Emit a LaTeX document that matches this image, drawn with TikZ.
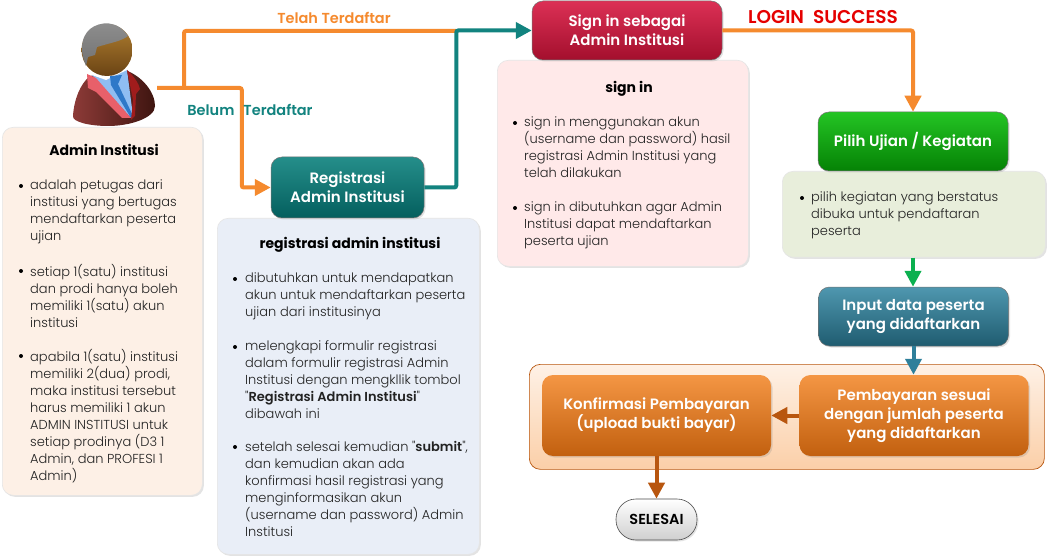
\documentclass[tikz,border=0pt]{standalone}
\usepackage{fontspec}
\setmainfont{Poppins}
\newfontfamily\lightfont{Poppins Light}[BoldFont={Poppins SemiBold}]
\usetikzlibrary{arrows.meta,shadows,calc}
\definecolor{orangeline}{HTML}{F58A2E}
\definecolor{tealline}{HTML}{12837F}
\definecolor{greenline}{HTML}{0BB04F}
\definecolor{blueline}{HTML}{2E7F9A}
\definecolor{brownline}{HTML}{B8560F}
\definecolor{bodyink}{HTML}{222222}
\definecolor{admfill}{HTML}{FDF0E6}
\definecolor{regfill}{HTML}{E9EEF7}
\definecolor{signfill}{HTML}{FFE9E9}
\definecolor{pilfill}{HTML}{E8EEDB}
\definecolor{jacketL}{HTML}{8E3B38}
\definecolor{jacketR}{HTML}{3E1510}
\definecolor{lapel}{HTML}{E8606A}
\definecolor{lapelR}{HTML}{A01C1C}
\definecolor{shirt}{HTML}{8FBDF2}
\definecolor{tie}{HTML}{2E78C8}
\definecolor{skinT}{HTML}{B07F30}
\definecolor{skinB}{HTML}{6A4314}
\definecolor{hairT}{HTML}{8F8F8F}
\definecolor{hairB}{HTML}{727272}
\definecolor{redT}{HTML}{DC3055}
\definecolor{redB}{HTML}{A30F2D}
\definecolor{tealT}{HTML}{258E8A}
\definecolor{tealB}{HTML}{045F5E}
\definecolor{greenT}{HTML}{24C424}
\definecolor{greenB}{HTML}{058205}
\definecolor{blueT}{HTML}{4F97AF}
\definecolor{blueB}{HTML}{1F5C70}
\definecolor{orangeT}{HTML}{F49644}
\definecolor{orangeB}{HTML}{C2600F}
\definecolor{groupT}{HTML}{FEF1E6}
\definecolor{groupB}{HTML}{FBCFA8}
\definecolor{grayB}{HTML}{CFCFCF}
\tikzset{
  softshadow/.style={drop shadow={opacity=.22,shadow xshift=1.5pt,shadow yshift=-1.5pt}},
  infobox/.style={rectangle,rounded corners=11pt,draw=black!10,line width=.6pt,softshadow,anchor=north west,inner sep=0pt},
  btn/.style={rectangle,rounded corners=11pt,draw=black!55,line width=.5pt,softshadow,inner sep=0pt,
    text=white,align=center,font=\fontsize{15}{19}\selectfont\lightfont\bfseries,minimum width=190pt,minimum height=59pt},
  orangebtn/.style={btn,draw=none,top color=orangeT,bottom color=orangeB,minimum height=81pt,minimum width=229pt},
  bodytext/.style={anchor=north west,inner sep=0pt,align=left,text=bodyink,font=\fontsize{13}{17}\selectfont\lightfont},
  titletext/.style={inner sep=0pt,text=black,font=\fontsize{14}{17}\selectfont\bfseries},
  bulletdot/.style={circle,fill=black,inner sep=0pt,minimum size=4pt},
  flowlabel/.style={inner sep=0pt,font=\fontsize{14.5}{16}\selectfont\lightfont\bfseries},
  link/.style={line width=4pt,-{Triangle[width=16pt,length=16pt]}},
  plainlink/.style={line width=4pt},
}
\begin{document}
\begin{tikzpicture}[x=1pt,y=-1pt]
\useasboundingbox (0,0) rectangle (1047,556);
\fill[white] (0,0) rectangle (1047,556);

% person
\shade[left color=jacketL,right color=jacketR]
  (73,116) .. controls (74,100) and (80,84) .. (90,76) -- (125,70)
  .. controls (142,76) and (155,92) .. (155,106) .. controls (155,118) and (130,126) .. (108,126)
  .. controls (90,126) and (72,122) .. (73,116) -- cycle;
\fill[shirt] (92,75) -- (127,70) -- (133,116) -- (131,118) -- cycle;
\fill[white] (92,75) -- (106,80) -- (127,70) -- (124,66) -- (97,70) -- cycle;
\fill[tie] (110,76) -- (122,75) -- (118,84) -- (133,116) -- (131,118) -- (111,85) -- cycle;
\fill[lapel] (87,74) -- (96,78) -- (131,118) -- (122,118) -- (96,92) -- (88,88) -- cycle;
\fill[lapelR] (127,70) .. controls (134,76) and (139,84) .. (140,89) -- (136,94) -- (135,116) -- (131,120) -- (133,100) -- cycle;
\shade[top color=skinT,bottom color=skinB] (107,50) ellipse (25.5pt and 26pt);
\shade[top color=hairT,bottom color=hairB]
  (86,66) .. controls (80,52) and (80,38) .. (90,29) .. controls (100,21) and (118,20) .. (128,36)
  .. controls (122,41) and (110,43) .. (97,47) -- (95,55) -- (88,57) -- cycle;
\coordinate (personout) at (157,88);
\coordinate (branch) at (184,88);

% group panel
\node[rectangle,rounded corners=11pt,draw=brownline,line width=.7pt,top color=groupT,bottom color=groupB,anchor=north west,minimum width=515pt,minimum height=105pt,inner sep=0pt] (groupbox) at (529,364) {};

% info boxes
\node[infobox,fill=admfill,minimum width=200pt,minimum height=368pt] (admbox) at (2,127) {};
\node[infobox,fill=regfill,minimum width=262pt,minimum height=336pt] (regbox) at (217,218) {};
\node[infobox,fill=signfill,minimum width=251pt,minimum height=206pt] (signbox) at (497,60) {};
\node[infobox,fill=pilfill,minimum width=263pt,minimum height=86pt] (pilbox) at (782,171) {};

% buttons
\node[btn,top color=redT,bottom color=redB] (signbtn) at (627,30.5) {Sign in sebagai\\Admin Institusi};
\node[btn,top color=tealT,bottom color=tealB,minimum width=153pt,minimum height=61pt] (regbtn) at (347.5,187.5) {Registrasi\\Admin Institusi};
\node[btn,top color=greenT,bottom color=greenB] (pilbtn) at (913,141.5) {Pilih Ujian / Kegiatan};
\node[btn,top color=blueT,bottom color=blueB] (inputbtn) at (913.5,316.5) {Input data peserta\\yang didaftarkan};
\node[orangebtn] (paybtn) at (914,415.5) {Pembayaran sesuai\\dengan jumlah peserta\\yang didaftarkan};
\node[orangebtn] (confbtn) at (656.5,415.5) {Konfirmasi Pembayaran\\(upload bukti bayar)};
\node[rectangle,rounded corners=20pt,draw=black!70,line width=.6pt,top color=white,bottom color=grayB,softshadow,minimum width=81pt,minimum height=41pt,inner sep=0pt,font=\fontsize{14.5}{15}\selectfont\lightfont\bfseries] (donebtn) at (656.5,519.5) {SELESAI};

% connectors
\draw[plainlink,orangeline,rounded corners=2pt] (branch) |- (456,31);
\draw[link,orangeline,rounded corners=2pt] (personout) -| ($(regbtn.west)+(-29,0)$) -- (regbtn.west);
\draw[link,tealline,rounded corners=2pt] (regbtn.east) -- ($(regbtn.east)+(32,0)$) |- (signbtn.west);
\draw[link,orangeline,rounded corners=2pt] (signbtn.east) -| (pilbtn.north);
\draw[link,greenline] (pilbox.south -| pilbtn.south) -- (pilbtn.south |- inputbtn.north);
\draw[link,blueline] (inputbtn.south) -- (inputbtn.south |- paybtn.north);
\draw[link,brownline] (paybtn.west) -- (confbtn.east);
\draw[link,brownline] (confbtn.south) -- (donebtn.north);

% flow labels
\node[flowlabel,text=orangeline,anchor=base] (lab1) at (334,24) {Telah Terdaftar};
\node[flowlabel,text=tealline,anchor=base] (lab2) at (250,116) {Belum\hspace{9pt}Terdaftar};
\node[flowlabel,text=red!90!black,anchor=base,font=\fontsize{18.5}{20}\selectfont\lightfont\bfseries] (lab3) at (823,24) {LOGIN\hspace{9pt}SUCCESS};

% admin text
\node[titletext,anchor=base] (admtitle) at (104,156) {Admin Institusi};
\node[bulletdot] (ab1) at (21,186) {};
\node[bodytext] (at1) at (30,179.5) {adalah petugas dari\\institusi yang bertugas\\mendaftarkan peserta\\ujian};
\node[bulletdot] (ab2) at (21,271) {};
\node[bodytext] (at2) at (30,264.5) {setiap 1(satu) institusi\\dan prodi hanya boleh\\memiliki 1(satu) akun\\institusi};
\node[bulletdot] (ab3) at (21,356) {};
\node[bodytext] (at3) at (30,349.5) {apabila 1(satu) institusi\\memiliki 2(dua) prodi,\\maka institusi tersebut\\harus memiliki 1 akun\\ADMIN INSTITUSI untuk\\setiap prodinya (D3 1\\Admin, dan PROFESI 1\\Admin)};

% registrasi text
\node[titletext,anchor=base] (regtitle) at (350,249) {registrasi admin institusi};
\node[bulletdot] (rb1) at (235,279) {};
\node[bodytext] (rt1) at (245,272.5) {dibutuhkan untuk mendapatkan\\akun untuk mendaftarkan peserta\\ujian dari institusinya};
\node[bulletdot] (rb2) at (235,347) {};
\node[bodytext] (rt2) at (245,340.5) {melengkapi formulir registrasi\\dalam formulir registrasi Admin\\Institusi dengan mengkllik tombol\\"\textbf{Registrasi Admin Institusi}"\\dibawah ini};
\node[bulletdot] (rb3) at (235,447) {};
\node[bodytext] (rt3) at (245,440.5) {setelah selesai kemudian "\textbf{submit}",\\dan kemudian akan ada\\konfirmasi hasil registrasi yang\\menginformasikan akun\\(username dan password) Admin\\Institusi};

% sign in text
\node[titletext,anchor=base] (signtitle) at (629,93) {sign in};
\node[bulletdot] (sb1) at (515,123) {};
\node[bodytext] (st1) at (524,116.5) {sign in menggunakan akun\\(username dan password) hasil\\registrasi Admin Institusi yang\\telah dilakukan};
\node[bulletdot] (sb2) at (515,208) {};
\node[bodytext] (st2) at (524,201.5) {sign in dibutuhkan agar Admin\\Institusi dapat mendaftarkan\\peserta ujian};

% pilih text
\node[bulletdot] (pb1) at (802,198) {};
\node[bodytext] (pt1) at (811,191.5) {pilih kegiatan yang berstatus\\dibuka untuk pendaftaran\\peserta};
\end{tikzpicture}
\end{document}
